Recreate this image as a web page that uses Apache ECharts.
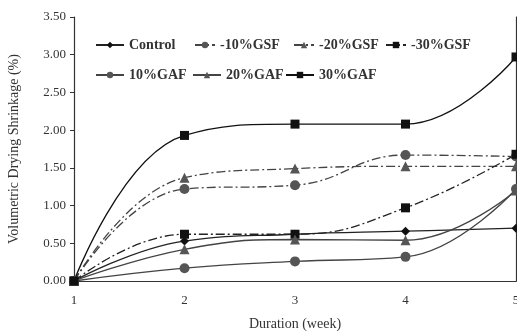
<!DOCTYPE html>
<html>
<head>
<meta charset="utf-8">
<script src="https://cdn.jsdelivr.net/npm/echarts@6/dist/echarts.min.js"></script>
<style>
html,body{margin:0;padding:0;background:#fff;}
#main{width:517px;height:335px;}
</style>
</head>
<body>
<div id="main"></div>
<script>
var weeks = [1, 2, 3, 4, 5];
var control = [0, 0.53, 0.62, 0.66, 0.70];//Control
var gsf10 = [0, 1.22, 1.27, 1.67, 1.65];//-10%GSF
var gsf20 = [0, 1.37, 1.49, 1.52, 1.52];//-20%GSF
var gsf30 = [0, 0.62, 0.62, 0.97, 1.68];//-30%GSF
var gaf10 = [0, 0.17, 0.26, 0.32, 1.22];//10%GAF
var gaf20 = [0, 0.42, 0.55, 0.54, 1.20];//20%GAF
var gaf30 = [0, 1.93, 2.08, 2.08, 2.97];//30%GAF

var serif = 'Liberation Serif';
var dashDot = [9, 3, 2, 3];

function pairs(arr) {
    var out = [];
    for (var i = 0; i < weeks.length; i++) {
        out.push([weeks[i], arr[i]]);
    }
    return out;
}

function mk(name, arr, symbol, color, lineColor, dashed, size) {
    return {
        name: name,
        type: 'line',
        data: pairs(arr),
        smooth: 0.45,
        symbol: symbol,
        symbolSize: size,
        lineStyle: { color: lineColor, width: 1.3, type: dashed ? dashDot : 'solid' },
        itemStyle: { color: color },
        emphasis: { disabled: true }
    };
}

// one legend per item so each sits where the original puts it
function leg(name, left, top, w) {
    return {
        data: [name],
        left: left, top: top,
        itemWidth: w, itemHeight: 8,
        textStyle: { fontFamily: serif, fontWeight: 'bold', fontSize: 14, color: '#333' }
    };
}

var myChart = echarts.init(document.getElementById('main'));
var option = {
    animation: false,
    backgroundColor: '#fff',
    grid: { left: 74, top: 17, right: 1, bottom: 54, outerBoundsMode: 'none' },
    legend: [
        leg('Control', 90, 33, 28),
        leg('-10%GSF', 189, 33, 20),
        leg('-20%GSF', 288, 33, 20),
        leg('-30%GSF', 380, 33, 20),
        leg('10%GAF', 90, 63, 28),
        leg('20%GAF', 187, 63, 28),
        leg('30%GAF', 280, 63, 28)
    ],
    xAxis: [
        {
            type: 'value',
            min: 1, max: 5, interval: 1,
            name: 'Duration (week)',
            nameLocation: 'middle',
            nameGap: 36,
            nameTextStyle: { fontFamily: serif, fontSize: 14, color: '#333' },
            axisLine: { lineStyle: { color: '#333', width: 1.2 } },
            axisTick: { show: false },
            axisLabel: { fontFamily: serif, fontSize: 13, color: '#333', margin: 13, showMaxLabel: true },
            splitLine: { show: false }
        },
        {
            type: 'value', position: 'top',
            min: 1, max: 5,
            axisLine: { show: true, lineStyle: { color: '#333', width: 1.2 } },
            axisTick: { show: false }, axisLabel: { show: false }, splitLine: { show: false }
        }
    ],
    yAxis: [
        {
            type: 'value',
            min: 0, max: 3.5, interval: 0.5,
            name: 'Volumetric Drying Shrinkage (%)',
            nameLocation: 'middle',
            nameGap: 53,
            nameTextStyle: { fontFamily: serif, fontSize: 14, color: '#333' },
            axisLine: { show: true, lineStyle: { color: '#333', width: 1.2 } },
            axisTick: { show: true, length: 4, lineStyle: { color: '#333' } },
            axisLabel: {
                fontFamily: serif, fontSize: 13, color: '#333', margin: 8,
                formatter: function (v) { return v.toFixed(2); }
            },
            splitLine: { show: false }
        },
        {
            type: 'value', position: 'right',
            min: 0, max: 3.5,
            axisLine: { show: true, lineStyle: { color: '#333', width: 1.2 } },
            axisTick: { show: false }, axisLabel: { show: false }, splitLine: { show: false }
        }
    ],
    series: [
        mk('Control', control, 'diamond', '#111', '#222', false, 9),
        mk('-10%GSF', gsf10, 'circle', '#555', '#444', true, 10),
        mk('-20%GSF', gsf20, 'triangle', '#555', '#444', true, 10),
        mk('-30%GSF', gsf30, 'rect', '#111', '#222', true, 9),
        mk('10%GAF', gaf10, 'circle', '#555', '#444', false, 10),
        mk('20%GAF', gaf20, 'triangle', '#555', '#444', false, 10),
        mk('30%GAF', gaf30, 'rect', '#111', '#111', false, 9)
    ]
};
myChart.setOption(option);
</script>
</body>
</html>
